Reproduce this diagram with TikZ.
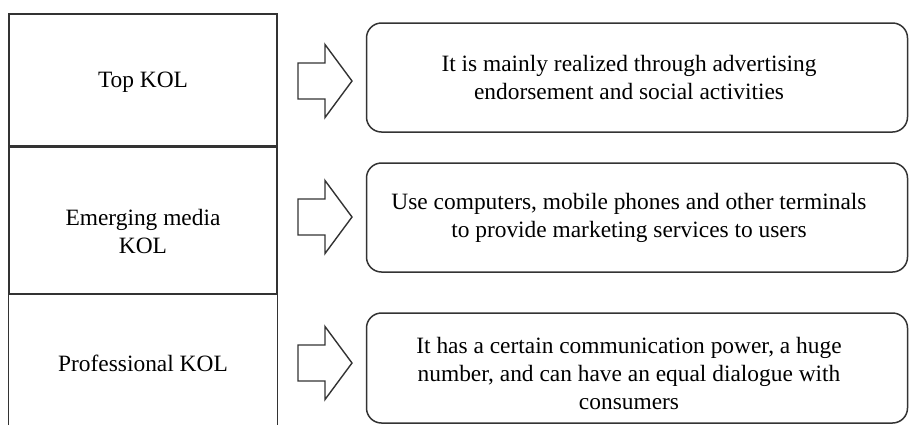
\documentclass[tikz,border=0pt]{standalone}
\usepackage{fontspec}
\setmainfont{Liberation Serif}
\usetikzlibrary{positioning}

\begin{document}
\begin{tikzpicture}
        [x=0.5pt, y=-0.5pt,
        font=\fontsize{11.7}{14}\selectfont,
        cell/.style={rectangle, draw=black!80, line width=0.7pt,
        minimum width=134pt, inner sep=0pt},
        kollabel/.style={align=center, inner sep=0pt},
        descbox/.style={rectangle, rounded corners=7.5pt, draw=black!80,
        line width=0.75pt, minimum width=270.5pt, minimum height=54.5pt},
        desctext/.style={align=center, inner sep=0pt},
        blockarrow/.pic={\draw[black!80, line width=0.7pt]
            (0,-18) -- (27,-18) -- (27,-36.5) -- (54,0) -- (27,36.5)
            -- (27,18) -- (0,18) -- cycle;}]
        \useasboundingbox (0,0) rectangle (909,425);
        % left column
        \node[cell, minimum height=66pt] (topcell) at (143,80) {};
        \node[cell, minimum height=73pt, below=0pt of topcell] (mediacell) {};
        \coordinate (pagebottom) at (0,425);
        \draw[black!80, line width=0.7pt]
            (mediacell.south west |- pagebottom) -- (mediacell.south west)
            -- (mediacell.south east) -- (mediacell.south east |- pagebottom);
        \node[kollabel] (topkol) at (143,82) {Top KOL};
        \node[kollabel] (mediakol) at (143,231) {Emerging media\\KOL};
        \node[kollabel] (prokol) at (143,363) {Professional KOL};
        % arrows
        \pic (arrtop) at (298,81) {blockarrow};
        \pic (arrmedia) at (298,217) {blockarrow};
        \pic (arrpro) at (298,363) {blockarrow};
        % right column
        \node[descbox] (topdesc) at (637,77.5) {};
        \node[descbox, minimum height=54.5pt] (mediadesc) at (637,217.5) {};
        \node[descbox, minimum height=55pt] (prodesc) at (637,368) {};
        \node[desctext] at ([xshift=-4pt]topdesc.center)
            {It is mainly realized through advertising\\endorsement and social activities};
        \node[desctext] at ([xshift=-4pt]mediadesc.center)
            {Use computers, mobile phones and other terminals\\to provide marketing services to users};
        \node[desctext] at ([xshift=-4pt, yshift=-2.5pt]prodesc.center)
            {It has a certain communication power, a huge\\number, and can have an equal dialogue with\\consumers};
\end{tikzpicture}
\end{document}
